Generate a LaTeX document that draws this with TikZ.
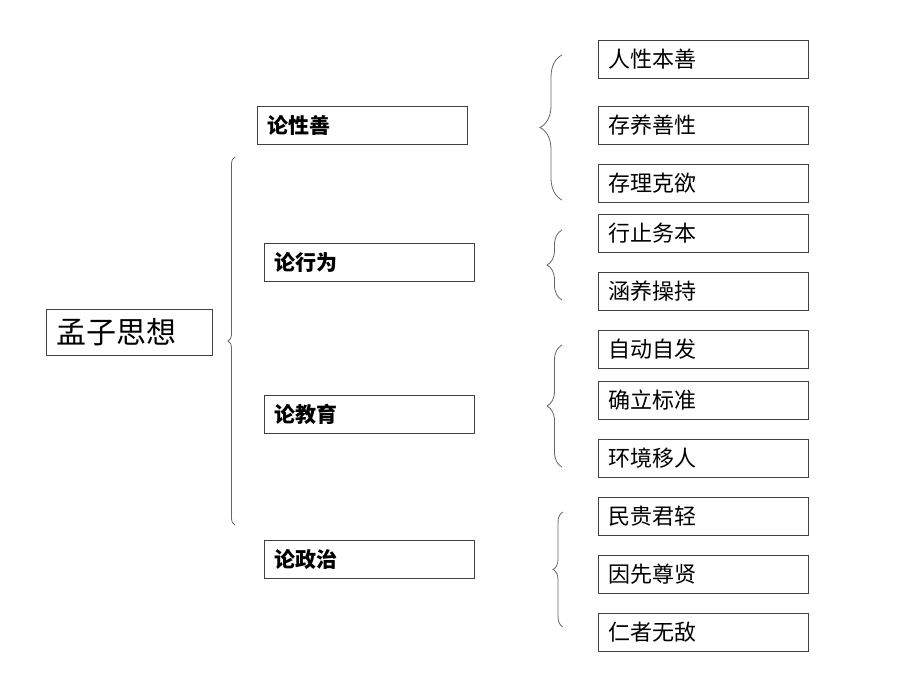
\documentclass[tikz,border=0pt]{standalone}
\usepackage{fontspec}
\usepackage{tikz}
\usetikzlibrary{decorations.pathreplacing}
\newfontfamily\cjk{Noto Sans CJK SC}

\begin{document}
\begin{tikzpicture}[x=1pt, y=-1pt,
	box/.style={draw=black!75, line width=0.9pt, anchor=north west, inner xsep=10pt, inner ysep=0pt,
		minimum height=38pt, text width=190pt, align=left, font=\cjk\fontsize{22}{24}\selectfont},
	topic/.style={box, font=\cjk\bfseries\fontsize{21}{24}\selectfont},
	curl/.style={decorate, decoration={brace, amplitude=#1}, draw=black!60, line width=0.8pt}]
			%%%%% START %%%%%
			
			\useasboundingbox (0, 0) rectangle (920, 690);
			
			\node[box, minimum height=46pt, text width=146pt, font=\cjk\fontsize{30}{32}\selectfont] (root) at (46, 309) {孟子思想};
			
			\node[topic] (xing) at (257, 106) {论性善};
			\node[topic] (xw) at (264, 243) {论行为};
			\node[topic] (jy) at (264, 395) {论教育};
			\node[topic] (zz) at (264, 540) {论政治};
			
			\draw[curl=7] (235, 525) -- (235, 157);
			
			\node[box] (x1) at (598, 40) {人性本善};
			\node[box] (x2) at (598, 106) {存养善性};
			\node[box] (x3) at (598, 164) {存理克欲};
			\draw[curl=22] (562, 200) -- (562, 55);
			
			\node[box] (w1) at (598, 214) {行止务本};
			\node[box] (w2) at (598, 272) {涵养操持};
			\draw[curl=15] (562, 300) -- (562, 230);
			
			\node[box] (j1) at (598, 330) {自动自发};
			\node[box] (j2) at (598, 381) {确立标准};
			\node[box] (j3) at (598, 439) {环境移人};
			\draw[curl=15] (562, 467) -- (562, 345);
			
			\node[box] (z1) at (598, 497) {民贵君轻};
			\node[box] (z2) at (598, 555) {因先尊贤};
			\node[box] (z3) at (598, 613) {仁者无敌};
			\draw[curl=10] (563, 627) -- (563, 512);
			
			%%%%% END %%%%%
\end{tikzpicture}
\end{document}
